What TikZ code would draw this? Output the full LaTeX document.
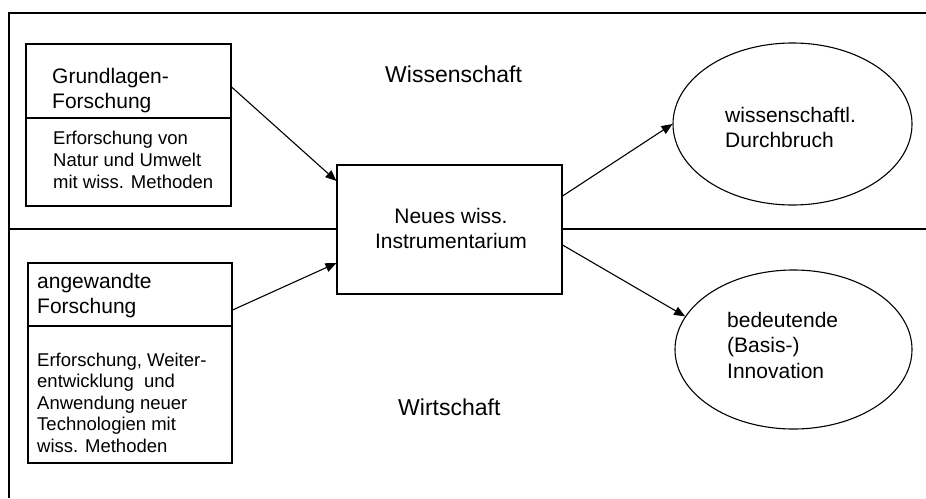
\documentclass[tikz,border=0pt]{standalone}
\usepackage{fontspec}
\setmainfont{Liberation Sans}
\usetikzlibrary{arrows.meta,shapes.geometric}

% Multi-line text nodes are placed by the baseline of their last line.
\tikzset{
  every picture/.style={x=1pt,y=-1pt},
  frame/.style={line width=1.1pt},
  box/.style={draw,line width=1.1pt,fill=white,rectangle,inner sep=0pt},
  oval/.style={draw,line width=1.1pt,ellipse,inner sep=0pt,minimum width=239pt,minimum height=162pt},
  title/.style={inner sep=0pt,anchor=base west,align=left,font=\fontsize{21}{25}\selectfont},
  body/.style={inner sep=0pt,anchor=base west,align=left,font=\fontsize{18.5}{22}\selectfont},
  area/.style={inner sep=0pt,anchor=base west,font=\fontsize{23}{27}\selectfont},
  flow/.style={line width=1.1pt,-{Triangle[length=11pt,width=9pt]}}
}

\begin{document}
\begin{tikzpicture}
  \useasboundingbox (0,0) rectangle (926,498);

  % outer frame and the border between science and economy
  \draw[frame] (926,13) -- (9,13) -- (9,498);
  \draw[frame] (9,229) -- (926,229);

  % area labels
  \node[area] (wiss) at (385,82) {Wissenschaft};
  \node[area] (wirt) at (398,415) {Wirtschaft};

  % basic research
  \node[box,minimum width=205pt,minimum height=74pt] (g1) at (128.5,81) {};
  \node[box,minimum width=205pt,minimum height=88pt] (g2) at (128.5,162) {};
  \node[title] (g1t) at (52,108) {Grundlagen-\\Forschung};
  \node[body] (g2t) at (53,188) {Erforschung von\\Natur und Umwelt\\mit wiss. Methoden};

  % applied research
  \node[box,minimum width=204pt,minimum height=63pt] (a1) at (130,294.5) {};
  \node[box,minimum width=204pt,minimum height=137pt] (a2) at (130,394.5) {};
  \node[title] (a1t) at (37,313) {angewandte\\Forschung};
  \node[body,font=\fontsize{18.5}{21.5}\selectfont] (a2t) at (37,452) {Erforschung, Weiter-\\entwicklung\ \ und\\Anwendung neuer\\Technologien mit\\wiss. Methoden};

  % new instruments
  \node[box,minimum width=225pt,minimum height=129pt] (mid) at (449.5,229.5) {};
  \node[inner sep=0pt,anchor=base,align=center,font=\fontsize{21}{25}\selectfont] (midt) at (451,248) {Neues wiss.\\Instrumentarium};

  % outcomes
  \node[oval] (e1) at (792.5,124) {};
  \node[oval,minimum width=237pt,minimum height=159pt] (e2) at (793.5,349.5) {};
  \node[title] (e1t) at (725,147) {wissenschaftl.\\Durchbruch};
  \node[title,font=\fontsize{21}{25.5}\selectfont] (e2t) at (727,378) {bedeutende\\(Basis-)\\Innovation};

  % connectors
  \draw[flow] ([yshift=-6pt]g1.east) -- ([yshift=48.5pt]mid.west);
  \draw[flow] ([yshift=-15.5pt]a1.east) -- ([yshift=-33.5pt]mid.west);
  \draw[flow] ([yshift=33.5pt]mid.east) -- (e1.west);
  \draw[flow] ([yshift=-15.5pt]mid.east) -- (e2.163);
\end{tikzpicture}
\end{document}
